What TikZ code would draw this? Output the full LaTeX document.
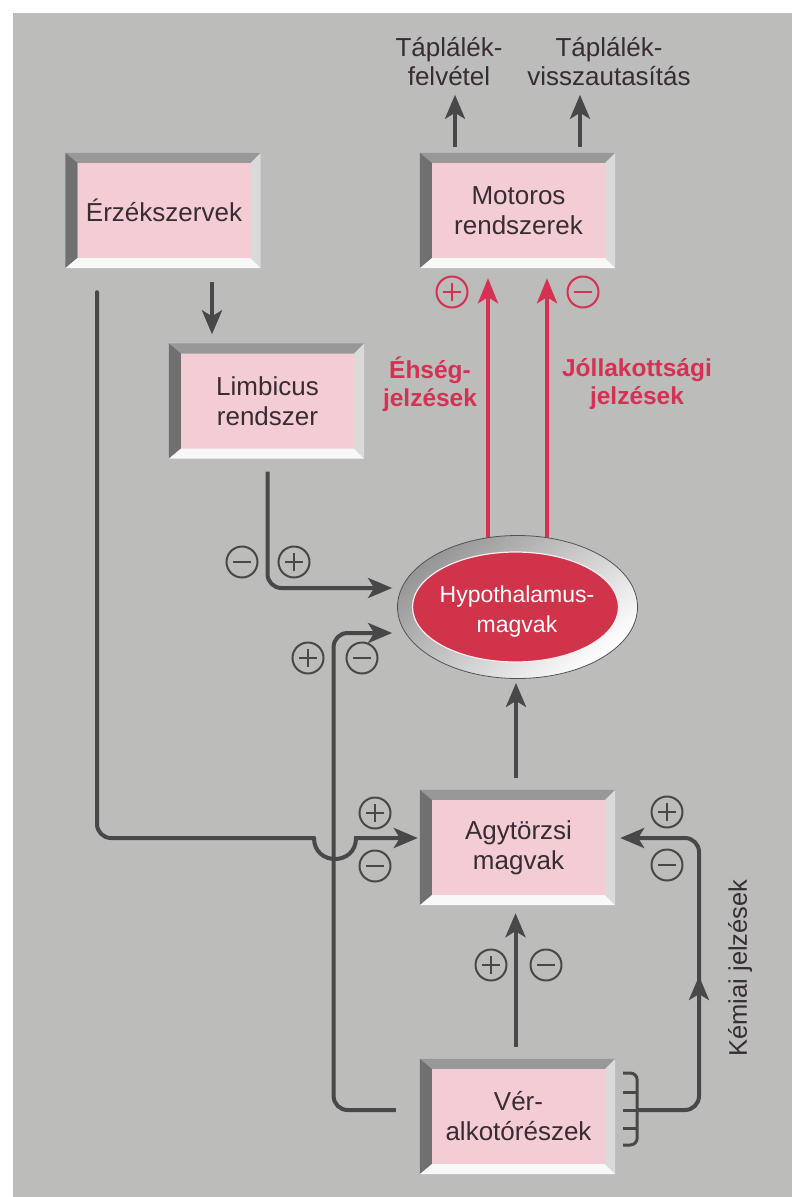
\documentclass[tikz,border=0pt]{standalone}
\usepackage{fontspec}
\setmainfont{Liberation Sans}
\usetikzlibrary{arrows.meta,shapes.geometric,calc}
\definecolor{bg}{RGB}{188,188,186}
\definecolor{ln}{RGB}{72,72,72}
\definecolor{pinkf}{RGB}{244,204,212}
\definecolor{redc}{RGB}{214,48,82}
\definecolor{ellr}{RGB}{208,52,74}
\definecolor{txt}{RGB}{55,45,50}
\definecolor{bvL}{RGB}{112,112,112}
\definecolor{bvT}{RGB}{152,152,152}
\definecolor{bvR}{RGB}{218,218,218}
\definecolor{bvB}{RGB}{248,248,248}
\definecolor{ringd}{RGB}{150,150,150}
\newcommand\bevelbox[1]{%
  \fill[bvT] ($(#1.north west)+(-12,-10)$) -- ($(#1.north east)+(10,-10)$) -- (#1.north east) -- (#1.north west) -- cycle;
  \fill[bvL] ($(#1.north west)+(-12,-10)$) -- ($(#1.south west)+(-12,10)$) -- (#1.south west) -- (#1.north west) -- cycle;
  \fill[bvR] ($(#1.north east)+(10,-10)$) -- ($(#1.south east)+(10,10)$) -- (#1.south east) -- (#1.north east) -- cycle;
  \fill[bvB] ($(#1.south west)+(-12,10)$) -- ($(#1.south east)+(10,10)$) -- (#1.south east) -- (#1.south west) -- cycle;
}
\begin{document}
\begin{tikzpicture}[x=1pt,y=-1pt,
  box/.style={minimum width=173pt, minimum height=95pt, fill=pinkf, inner sep=0pt, align=center, font=\fontsize{26}{30}\selectfont, text=txt},
  lbl/.style={align=center, inner sep=0pt, font=\fontsize{26}{29}\selectfont, text=txt},
  rlbl/.style={align=center, inner sep=0pt, font=\bfseries\fontsize{24.5}{28}\selectfont, text=redc},
  conn/.style={draw=ln, line width=4pt, rounded corners=14pt},
  arr/.style={conn, -{Stealth[length=24pt,width=20pt,inset=6pt]}},
  rarr/.style={draw=redc, line width=4pt, -{Stealth[length=25pt,width=20pt,inset=6pt]}},
  pmbase/.style={circle, draw=#1, line width=2pt, minimum size=31pt, inner sep=0pt},
  posc/.style={pmbase=#1, path picture={\draw[line width=1.8pt, #1] ([xshift=-9pt]path picture bounding box.center) -- ([xshift=9pt]path picture bounding box.center) ([yshift=-9pt]path picture bounding box.center) -- ([yshift=9pt]path picture bounding box.center);}},
  posc/.default=ln,
  negc/.style={pmbase=#1, path picture={\draw[line width=1.8pt, #1] ([xshift=-9pt]path picture bounding box.center) -- ([xshift=9pt]path picture bounding box.center);}},
  negc/.default=ln,
]
\useasboundingbox (0,0) rectangle (792,1197);
\fill[white] (0,0) rectangle (792,1197);
\fill[bg] (13,13) rectangle (792,1197);

% boxes
\node[box] (erz) at (164,210.5) {Érzékszervek};
\node[box] (mot) at (518.5,210.5) {Motoros\\rendszerek};
\node[box] (lim) at (267.5,401) {Limbicus\\rendszer};
\node[box] (agy) at (518.5,847.5) {Agytörzsi\\magvak};
\node[box] (ver) at (518.5,1116.5) {Vér-\\alkotórészek};
\bevelbox{erz}\bevelbox{mot}\bevelbox{lim}\bevelbox{agy}\bevelbox{ver}

% top labels
\node[lbl] (felv) at (449,62) {Táplálék-\\felvétel};
\node[lbl] (viss) at (609,62) {Táplálék-\\visszautasítás};
\draw[arr] ($(mot.north)+(-63.5,-16)$) -- ($(mot.north)+(-63.5,-68)$);
\draw[arr] ($(mot.north)+(61.5,-16)$) -- ($(mot.north)+(61.5,-68)$);

% red arrows
\draw[rarr] (488,560) -- ($(mot.south)+(-30.5,20)$);
\draw[rarr] (547,560) -- ($(mot.south)+(28.5,20)$);
\node[posc=redc] (rp) at (452,292) {};
\node[negc=redc] (rn) at (583,292) {};
\node[rlbl] (ehs) at (430,384) {Éhség-\\jelzések};
\node[rlbl] (jol) at (637,384) {Jóllakottsági\\jelzések};

% hypothalamus
\node[ellipse, minimum width=240pt, minimum height=143pt, inner sep=0pt, draw=gray!65!black, line width=0.8pt,
      top color=ringd, bottom color=white, shading angle=40] (hypo) at (517.5,607) {};
\node[ellipse, minimum width=206pt, minimum height=110pt, inner sep=0pt, fill=ellr, draw=white!70!pink, line width=1.2pt] (hypoin) at (515.5,607) {};
\node[align=center, inner sep=0pt, text=white, font=\fontsize{23}{30}\selectfont] (hypot) at (517,612) {Hypothalamus-\\magvak};

% Erzekszervek -> Limbicus
\draw[arr] ($(erz.south)+(48,24)$) -- ($(lim.north)+(-55.5,-19)$);

% Limbicus -> hypo
\draw[arr] ($(lim.south)+(0,23)$) |- ($(hypo.west)+(-5,-19)$);
\node[negc] (ln1) at (242,562) {};
\node[posc] (lp1) at (294,562) {};

% Ver -> hypo
\draw[arr] ($(ver.west)+(-36,-6.5)$) -| ($(hypo.west)+(-63.5,26)$) -- ($(hypo.west)+(-5,26)$);
\node[posc] (vp1) at (308,658) {};
\node[negc] (vn1) at (362,658) {};

% Erzekszervek -> Agytorzsi (with hop)
\coordinate (hopA) at (314,838);
\coordinate (hopB) at (356,838);
\draw[conn, line cap=round] ($(erz.south)+(-67,34)$) |- (hopA);
\draw[arr, rounded corners=0pt, line cap=round] (hopA) .. controls (314,866) and (356,866) .. (hopB) -- ($(agy.west)+(-14,-9.5)$);
\node[posc] (ep) at (375,813) {};
\node[negc] (en) at (375,866) {};

% Agytorzsi -> hypo
\draw[arr] ($(agy.north)+(-2.5,-22)$) -- ($(hypo.south)+(-1.5,4)$);

% Ver -> Agytorzsi
\draw[arr] ($(ver.north)+(-3,-22)$) -- ($(agy.south)+(-3,18)$);
\node[posc] (mp) at (491,965) {};
\node[negc] (mn) at (546,965) {};

% bracket and chemical signals
\coordinate (brc) at ($(ver.east)+(32,-6.5)$);
\draw[draw=ln, line width=3pt, rounded corners=7pt] ($(ver.east)+(18,-43.5)$) -- ($(ver.east)+(32,-43.5)$) -- ($(ver.east)+(32,28.5)$) -- ($(ver.east)+(18,28.5)$);
\draw[draw=ln, line width=3pt] ($(ver.east)+(18,-24.5)$) -- ($(ver.east)+(32,-24.5)$)
  ($(ver.east)+(18,-6.5)$) -- ($(ver.east)+(32,-6.5)$)
  ($(ver.east)+(18,11.5)$) -- ($(ver.east)+(32,11.5)$);
\coordinate (chemtop) at (699,838);
\draw[arr] (brc) -| (chemtop) -- ($(agy.east)+(15,-9.5)$);
\draw[draw=ln, line width=4pt, -{Stealth[length=24pt,width=20pt,inset=6pt]}] (699,1002) -- (699,976);
\node[posc] (cp) at (667,812) {};
\node[negc] (cn) at (667,865) {};
\node[rotate=90, inner sep=0pt, text=txt, font=\fontsize{25.5}{30}\selectfont] (kem) at (740,968) {Kémiai jelzések};
\end{tikzpicture}
\end{document}
